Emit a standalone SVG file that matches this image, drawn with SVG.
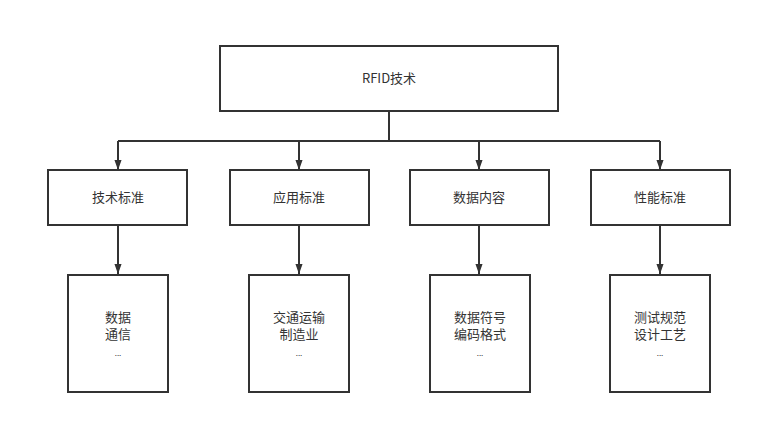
<svg xmlns="http://www.w3.org/2000/svg" width="761" height="425" viewBox="0 0 761 425">
<style>
rect{fill:#fff;stroke:#333;stroke-width:2}
text{font-family:"Noto Sans CJK SC","Liberation Sans",sans-serif;font-size:13px;fill:#333;text-anchor:middle}
.c{stroke:#333;stroke-width:2;fill:none}
.m{marker-end:url(#a)}
.d{font-size:8px}
</style>
<defs><marker id="a" markerWidth="10" markerHeight="14" refX="14" refY="5" orient="auto" markerUnits="userSpaceOnUse" viewBox="0 0 14 10"><path d="M0,0L14,5L0,10z" fill="#333"/></marker></defs>
<rect width="761" height="425" fill="#fff" style="stroke:none"/>
<g id="connectors">
<path class="c" d="M389,111V141M118,141H660"/>
<path class="c m" d="M118,141V170"/><path class="c m" d="M299,141V170"/><path class="c m" d="M479,141V170"/><path class="c m" d="M660,141V170"/>
<path class="c m" d="M118,225V274"/><path class="c m" d="M299,225V274"/><path class="c m" d="M479,225V274"/><path class="c m" d="M660,225V274"/>
</g>
<g id="root"><rect x="220" y="46" width="338" height="65"/><text x="389" y="83">RFID技术</text></g>
<g id="n1"><rect x="48" y="170" width="139" height="55"/><text x="118" y="202">技术标准</text></g>
<g id="n2"><rect x="230" y="170" width="139" height="55"/><text x="299" y="202">应用标准</text></g>
<g id="n3"><rect x="410" y="170" width="139" height="55"/><text x="479" y="202">数据内容</text></g>
<g id="n4"><rect x="591" y="170" width="139" height="55"/><text x="660" y="202">性能标准</text></g>
<g id="b1"><rect x="68" y="275" width="100" height="117"/><text x="118" y="322">数据</text><text x="118" y="339">通信</text><text class="d" x="118" y="356">...</text></g>
<g id="b2"><rect x="249" y="275" width="100" height="117"/><text x="299" y="322">交通运输</text><text x="299" y="339">制造业</text><text class="d" x="299" y="356">...</text></g>
<g id="b3"><rect x="430" y="275" width="100" height="117"/><text x="480" y="322">数据符号</text><text x="480" y="339">编码格式</text><text class="d" x="480" y="356">...</text></g>
<g id="b4"><rect x="610" y="275" width="100" height="117"/><text x="660" y="322">测试规范</text><text x="660" y="339">设计工艺</text><text class="d" x="660" y="356">...</text></g>
</svg>
